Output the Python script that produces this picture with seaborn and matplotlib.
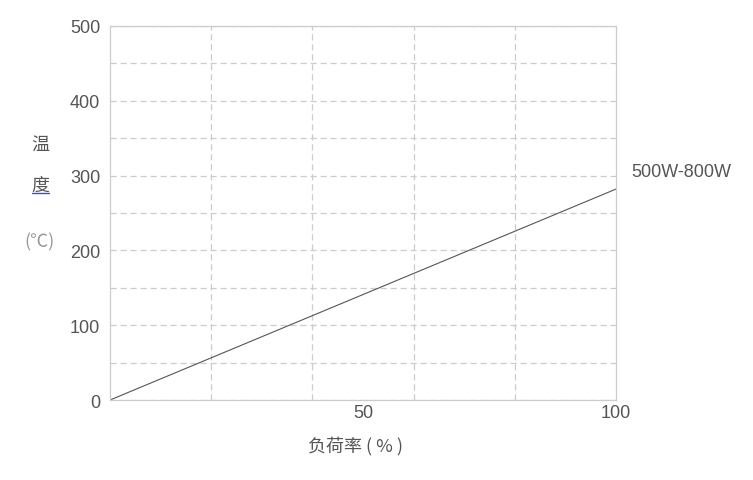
import matplotlib
matplotlib.use("Agg")
import matplotlib.pyplot as plt
import seaborn as sns
import pandas as pd

# data
load = [0, 100]          # 负荷率 (%)
temp = [0, 282]          # 温度 (℃)
series_name = "500W-800W"
x_ticks = [50, 100]
y_ticks = [0, 100, 200, 300, 400, 500]

df = pd.DataFrame({"load": load, "temp": temp})

sns.set_style("white")
plt.rcParams['font.family'] = ['Liberation Sans', 'Noto Sans CJK SC', 'DejaVu Sans']

fig = plt.figure(figsize=(7.53, 4.81), dpi=100)
ax = fig.add_axes([0.1461, 0.1663, 0.6720, 0.7776])

sns.lineplot(data=df, x="load", y="temp", color="#555555", linewidth=0.8, ax=ax)

ax.set_xlim(0, 100)
ax.set_ylim(0, 500)
ax.set_xticks(x_ticks)
ax.set_xticks([20, 40, 60, 80], minor=True)
ax.set_yticks(y_ticks)
ax.set_yticks([50, 150, 250, 350, 450], minor=True)

grid_kw = dict(color="#cccccc", linestyle=(0, (5, 3)), linewidth=0.9)
ax.xaxis.grid(True, which="minor", **grid_kw)
ax.yaxis.grid(True, which="both", **grid_kw)
ax.xaxis.grid(False, which="major")
ax.set_axisbelow(True)

for s in ax.spines.values():
    s.set_color("#cccccc")
    s.set_linewidth(0.9)

ax.tick_params(which="both", length=0)
ax.tick_params(axis="y", labelsize=13, labelcolor="#555555", pad=7)
ax.tick_params(axis="x", labelsize=13, labelcolor="#555555", pad=3)
for lbl in ax.get_yticklabels():
    lbl.set_verticalalignment("center_baseline")
ax.set_xlabel("")
ax.set_ylabel("")

# series label at line end
ax.text(103, 305, series_name, fontsize=13, color="#555555", va="center", ha="left",
        clip_on=False)

# x axis title
fig.text(355 / 753, 1 - 446 / 481, "负荷率 ( % )", fontsize=13, color="#555555",
         ha="center", va="center", family=['Noto Sans CJK SC', 'DejaVu Sans'])

# y axis title, stacked
fig.text(40 / 753, 1 - 145 / 481, "温", fontsize=13, color="#555555",
         ha="center", va="center", family=['Noto Sans CJK SC', 'DejaVu Sans'])
fig.text(40 / 753, 1 - 186 / 481, "度", fontsize=13, color="#555555",
         ha="center", va="center", family=['Noto Sans CJK SC', 'DejaVu Sans'])
fig.add_artist(plt.Line2D([32 / 753, 49 / 753], [1 - 194 / 481, 1 - 194 / 481],
                          color="#3355dd", linewidth=1.0))
fig.text(39 / 753, 1 - 242 / 481, "(℃)", fontsize=13, color="#999999",
         ha="center", va="center", family=['Noto Sans CJK SC', 'DejaVu Sans'])

fig.savefig("out.png", dpi=100, facecolor="white")
